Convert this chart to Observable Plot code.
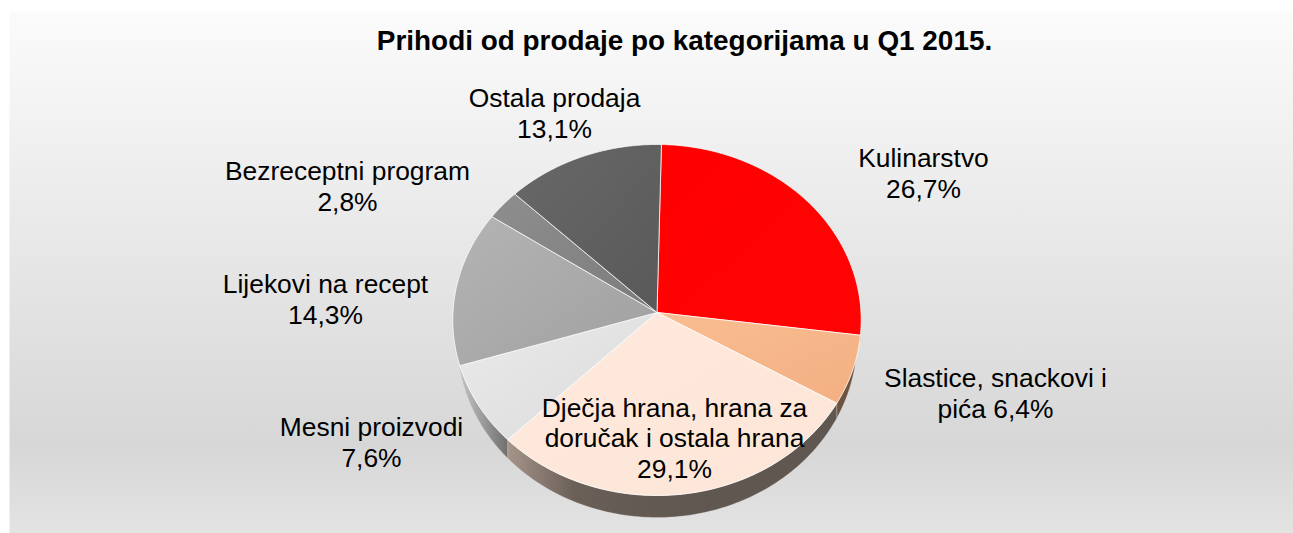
<!DOCTYPE html>
<html lang="hr">
<head>
<meta charset="utf-8">
<style>html,body{margin:0;padding:0;background:#fff}svg{display:block}</style>
<script src="https://cdn.jsdelivr.net/npm/d3@7"></script>
<script src="https://cdn.jsdelivr.net/npm/@observablehq/plot@0.6"></script>
</head>
<body>
<div id="chart"></div>
<script>
const chartTitle = "Prihodi od prodaje po kategorijama u Q1 2015.";
const categories = ["Kulinarstvo", "Slastice, snackovi i pića", "Dječja hrana, hrana za doručak i ostala hrana", "Mesni proizvodi", "Lijekovi na recept", "Bezreceptni program", "Ostala prodaja"];
const shares = [26.7, 6.4, 29.1, 7.6, 14.3, 2.8, 13.1];
const labelTexts = ["Kulinarstvo\n26,7%", "Slastice, snackovi i\npića 6,4%", "Dječja hrana, hrana za\ndoručak i ostala hrana\n29,1%", "Mesni proizvodi\n7,6%", "Lijekovi na recept\n14,3%", "Bezreceptni program\n2,8%", "Ostala prodaja\n13,1%"];

// styling and layout, separate from the data
const topStops = [["#ff0000","#ff0404"],["#f9bd92","#f3b082"],["#fee9dc","#fde6d8"],["#ebebeb","#dadada"],["#b4b4b4","#a0a0a0"],["#8e8e8e","#7c7c7c"],["#686868","#595959"]];
const rimStops = [[],["#6a5240","#75593f"],["#a59489","#6b6058","#625a53","#5f5750","#5f5750","#5f5750"],["#c4c4c4","#6f6f6f"],[],[],[]];
const labelPx = [[923,172],[995,392],[674,437],[371,441],[325,298],[347,185],[554,112]];

const W = 1293, H = 533, unit = 204, apexX = 656.5, apexY = 312;
const px = (x, y) => [(x - apexX) / unit, (y - apexY) / unit];
const K = -0.0427, B = 175.2 / 204, rotate = 1.3;
const topPoint = deg => {
  const a = deg * Math.PI / 180, u = Math.sin(a), v = -Math.cos(a), d = 1 + K * v;
  return [u / d, B * v / d];
};
const low = {cy: 28 / 204, rx: 200 / 204, ry: 177 / 204};
const lowerY = ([x, y]) => {
  const t = Math.min(1, Math.abs(x) / low.rx);
  return Math.max(y, low.cy + low.ry * Math.sqrt(1 - t * t));
};

let cum = 0;
const slices = shares.map((s, i) => {
  const a0 = cum / 100 * 360 + rotate; cum += s;
  const a1 = cum / 100 * 360 + rotate;
  const angles = d3.range(0, 101).map(j => a0 + (a1 - a0) * j / 100);
  const arc = angles.map(topPoint);
  const face = [[0, 0], ...arc, [0, 0]].map(([x, y]) => ({x, y}));
  const rim = [...arc.map(([x, y]) => ({x, y})), ...arc.slice().reverse().map(p => ({x: p[0], y: lowerY(p)}))];
  rim.push(rim[0]);
  return {i, face, rim};
});

const defs = () => {
  const g = d3.create("svg:defs");
  const grad = (id, stops, x2, y2) => {
    const lg = g.append("linearGradient").attr("id", id).attr("x1", 0).attr("y1", 0).attr("x2", x2).attr("y2", y2);
    stops.forEach(([o, c]) => lg.append("stop").attr("offset", o).attr("stop-color", c));
  };
  grad("bg", [[0, "#fbfbfb"], [0.83, "#d7d7d7"], [1, "#e3e3e3"]], 0, 1);
  topStops.forEach((s, i) => grad("top" + i, s.map((c, j) => [j / (s.length - 1), c]), 1, 1));
  rimStops.forEach((s, i) => { if (s.length) grad("rim" + i, s.map((c, j) => [j / (s.length - 1), c]), 1, 0); });
  return g.node();
};

const labels = labelTexts.map((text, i) => {
  const [x, y] = px(...labelPx[i]);
  return {x, y, text};
});

const chart = Plot.plot({
  width: W, height: H,
  marginLeft: 9, marginTop: 11, marginRight: 0, marginBottom: 0,
  x: {axis: null, domain: [(9 - apexX) / unit, (W - apexX) / unit]},
  y: {axis: null, domain: [(H - apexY) / unit, (11 - apexY) / unit]},
  style: {fontFamily: "'Liberation Sans', Arial, sans-serif", background: "transparent"},
  marks: [
    defs,
    Plot.frame({fill: "url(#bg)", stroke: "none"}),
    ...slices.filter(s => rimStops[s.i].length).map(s =>
      Plot.line(s.rim, {x: "x", y: "y", fill: `url(#rim${s.i})`, stroke: "#e8e4e0", strokeWidth: 0.4, strokeOpacity: 0.7})),
    ...slices.map(s =>
      Plot.line(s.face, {x: "x", y: "y", fill: `url(#top${s.i})`, stroke: "#ffffff", strokeWidth: 1, strokeOpacity: 0.75, strokeLinejoin: "round"})),
    Plot.text(labels, {x: "x", y: "y", text: "text", fontSize: 26.4, lineHeight: 1.16, fill: "#000", textAnchor: "middle", lineAnchor: "middle"}),
    Plot.text([chartTitle], {x: px(684, 41)[0], y: px(684, 41)[1], text: d => d, fontSize: 27.9, fontWeight: 700, fill: "#000", textAnchor: "middle", lineAnchor: "middle"})
  ]
});
document.getElementById("chart").append(chart);
</script>
</body>
</html>
